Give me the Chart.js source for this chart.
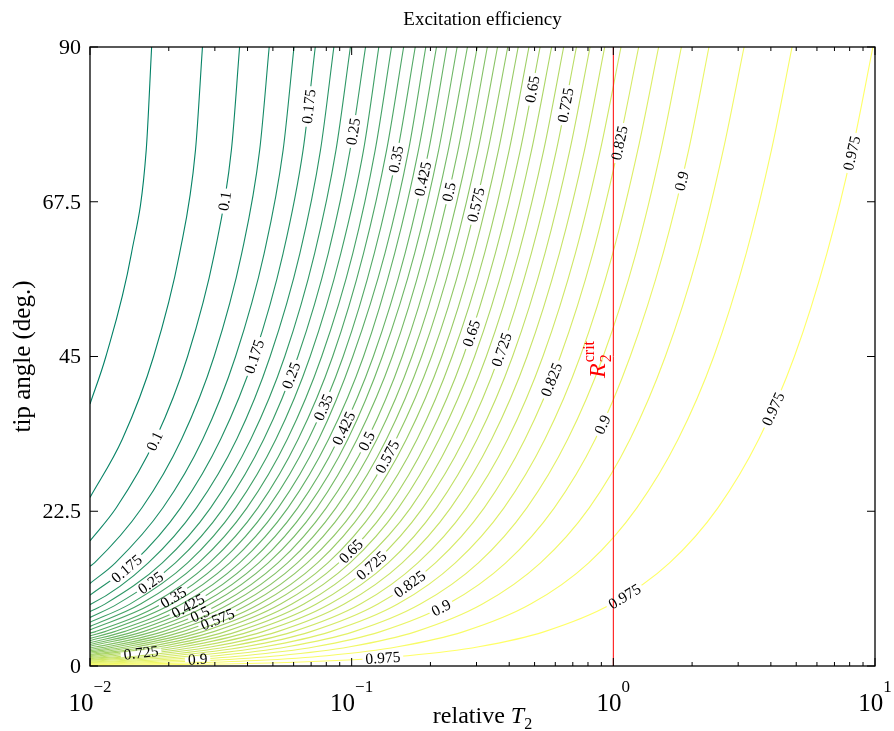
<!DOCTYPE html>
<html lang="en">
<head>
    <meta charset="UTF-8">
    <title>Excitation efficiency</title>
    <script src="https://cdn.jsdelivr.net/npm/chart.js"></script>
    <style>
        body { margin: 0; background: #fff; }
    </style>
</head>
<body>
<canvas id="contourChart" width="894" height="731"></canvas>
<script>
    // contour levels of the excitation efficiency
    const levels = [0.05, 0.075, 0.1, 0.125, 0.15, 0.175, 0.2, 0.225, 0.25, 0.275, 0.3, 0.325, 0.35, 0.375,
        0.4, 0.425, 0.45, 0.475, 0.5, 0.525, 0.55, 0.575, 0.6, 0.625, 0.65, 0.675, 0.7, 0.725, 0.75,
        0.775, 0.8, 0.825, 0.85, 0.875, 0.9, 0.925, 0.95, 0.975];
    // tip angles (deg.) at which each contour was read
    const tipAngles = [90, 75, 60, 45, 33, 23, 15, 9, 5, 2.8, 1.5, 0.8, 0.4];
    // tip angle where each contour meets the left edge (relative T2 = 0.01)
    const edgeAngle = [38.1, 24.5, 18.2, 14.5, 12.0, 10.3, 8.95, 7.91, 7.06, 6.36, 5.76, 5.24, 4.78, 4.38,
        4.02, 3.69, 3.39, 3.12, 2.87, 2.64, 2.42, 2.22, 2.03, 1.85, 1.68, 1.52, 1.37, 1.23, 1.09,
        0.960, 0.836, 0.716, 0.602, 0.492, 0.386, 0.284, 0.186, 0.0915];
    // relative T2 of each contour at tipAngles (only the part inside the plot)
    const relT2 = [
        [0.0172, 0.0164, 0.0144, 0.0115],
        [0.0269, 0.0253, 0.0220, 0.0175, 0.0133],
        [0.0373, 0.0347, 0.0299, 0.0236, 0.0178, 0.0126],
        [0.0484, 0.0445, 0.0380, 0.0298, 0.0224, 0.0158, 0.0104],
        [0.0602, 0.0547, 0.0463, 0.0360, 0.0270, 0.0190, 0.0125],
        [0.0726, 0.0652, 0.0547, 0.0424, 0.0316, 0.0222, 0.0146],
        [0.0855, 0.0760, 0.0634, 0.0488, 0.0364, 0.0255, 0.0167, 0.0101],
        [0.0989, 0.0871, 0.0722, 0.0555, 0.0412, 0.0289, 0.0189, 0.0114],
        [0.113, 0.0986, 0.0814, 0.0623, 0.0462, 0.0324, 0.0212, 0.0127],
        [0.127, 0.111, 0.0909, 0.0694, 0.0514, 0.0360, 0.0236, 0.0142],
        [0.142, 0.123, 0.101, 0.0768, 0.0568, 0.0398, 0.0260, 0.0156],
        [0.158, 0.136, 0.111, 0.0846, 0.0625, 0.0438, 0.0286, 0.0172],
        [0.175, 0.150, 0.122, 0.0928, 0.0685, 0.0479, 0.0313, 0.0188, 0.0105],
        [0.192, 0.165, 0.134, 0.101, 0.0749, 0.0524, 0.0342, 0.0205, 0.0114],
        [0.211, 0.180, 0.146, 0.111, 0.0817, 0.0571, 0.0373, 0.0224, 0.0124],
        [0.231, 0.197, 0.160, 0.121, 0.0890, 0.0622, 0.0406, 0.0244, 0.0135],
        [0.253, 0.215, 0.174, 0.131, 0.0968, 0.0676, 0.0442, 0.0265, 0.0147],
        [0.277, 0.234, 0.189, 0.143, 0.105, 0.0736, 0.0480, 0.0288, 0.0160],
        [0.302, 0.255, 0.206, 0.156, 0.115, 0.0800, 0.0523, 0.0314, 0.0174],
        [0.330, 0.279, 0.225, 0.170, 0.125, 0.0871, 0.0569, 0.0341, 0.0190, 0.0106],
        [0.361, 0.304, 0.245, 0.185, 0.136, 0.0949, 0.0620, 0.0372, 0.0207, 0.0116],
        [0.395, 0.332, 0.268, 0.202, 0.148, 0.104, 0.0676, 0.0406, 0.0226, 0.0126],
        [0.433, 0.364, 0.293, 0.221, 0.162, 0.113, 0.0740, 0.0444, 0.0247, 0.0138],
        [0.476, 0.400, 0.322, 0.242, 0.178, 0.124, 0.0811, 0.0487, 0.0270, 0.0151],
        [0.525, 0.441, 0.354, 0.267, 0.196, 0.137, 0.0892, 0.0535, 0.0297, 0.0167],
        [0.581, 0.487, 0.392, 0.295, 0.216, 0.151, 0.0986, 0.0591, 0.0329, 0.0184],
        [0.646, 0.542, 0.435, 0.327, 0.240, 0.168, 0.109, 0.0657, 0.0365, 0.0204, 0.0109],
        [0.723, 0.606, 0.486, 0.366, 0.269, 0.187, 0.122, 0.0733, 0.0407, 0.0228, 0.0122],
        [0.815, 0.682, 0.548, 0.412, 0.302, 0.211, 0.138, 0.0825, 0.0458, 0.0257, 0.0138],
        [0.927, 0.776, 0.622, 0.468, 0.343, 0.239, 0.156, 0.0937, 0.0521, 0.0292, 0.0156],
        [1.07, 0.892, 0.716, 0.538, 0.395, 0.275, 0.179, 0.108, 0.0598, 0.0335, 0.0180],
        [1.25, 1.04, 0.835, 0.627, 0.460, 0.321, 0.209, 0.126, 0.0698, 0.0391, 0.0209, 0.0112],
        [1.49, 1.24, 0.995, 0.747, 0.548, 0.382, 0.249, 0.150, 0.0831, 0.0465, 0.0249, 0.0133],
        [1.82, 1.52, 1.22, 0.914, 0.670, 0.467, 0.305, 0.183, 0.102, 0.0569, 0.0305, 0.0163],
        [2.32, 1.94, 1.55, 1.16, 0.854, 0.595, 0.388, 0.233, 0.129, 0.0725, 0.0388, 0.0207, 0.0104],
        [3.16, 2.63, 2.11, 1.58, 1.16, 0.809, 0.527, 0.316, 0.176, 0.0985, 0.0527, 0.0281, 0.0141],
        [4.82, 4.02, 3.22, 2.42, 1.77, 1.23, 0.805, 0.483, 0.268, 0.150, 0.0805, 0.0430, 0.0215],
        [9.82, 8.19, 6.55, 4.92, 3.60, 2.51, 1.64, 0.983, 0.546, 0.306, 0.164, 0.0874, 0.0437]
    ];

    // inline contour labels: level, and roughly where it sits (relative T2, tip angle)
    const labelLevel = [0.1, 0.175, 0.25, 0.35, 0.425, 0.5, 0.575, 0.65, 0.725, 0.825, 0.9, 0.975,
        0.1, 0.175, 0.25, 0.35, 0.425, 0.5, 0.575, 0.65, 0.725, 0.825, 0.9, 0.975,
        0.175, 0.25, 0.35, 0.425, 0.5, 0.575, 0.65, 0.725, 0.825, 0.9, 0.975, 0.725, 0.9, 0.975];
    const labelT2 = [0.0327, 0.0661, 0.100, 0.146, 0.194, 0.237, 0.295, 0.492, 0.700, 1.06, 1.84, 8.39,
        0.0177, 0.0363, 0.0579, 0.0788, 0.0983, 0.117, 0.142, 0.275, 0.378, 0.572, 0.928, 4.26,
        0.0136, 0.0172, 0.0209, 0.0240, 0.0262, 0.0307, 0.0957, 0.119, 0.166, 0.218, 1.11, 0.0157, 0.0256, 0.131];
    const labelTip = [67.7, 81.5, 77.9, 73.8, 70.6, 68.9, 67.0, 84.0, 81.5, 76.0, 70.6, 74.6,
        32.6, 45.9, 42.3, 37.5, 34.3, 32.6, 30.2, 48.4, 45.9, 41.9, 35.0, 37.2,
        14.4, 11.8, 9.74, 8.58, 7.7, 6.69, 17.3, 14.7, 11.8, 8.6, 9.9, 1.45, 1.02, 1.02];

    const critT2 = 1;              // R2 crit marker
    const critLabelAt = [0.865, 44.5];
    const xMin = 0.01, xMax = 10, yMin = 0, yMax = 90;
    const xDecades = [0.01, 0.1, 1, 10];
    const yTicks = [0, 22.5, 45, 67.5, 90];

    const SERIF = '"Liberation Serif", "DejaVu Serif", serif';
    const LABEL_FONT = '15.5px ' + SERIF;

    // matplotlib "summer" colour map
    function summer(v) {
        const t = (v - levels[0]) / (levels[levels.length - 1] - levels[0]);
        return 'rgb(' + Math.round(255 * t) + ',' + Math.round(255 * (0.5 + 0.5 * t)) + ',102)';
    }

    const datasets = [{
        data: [{x: critT2, y: yMin}, {x: critT2, y: yMax}],
        showLine: true, borderColor: '#ff0000', borderWidth: 1, pointRadius: 0, tension: 0
    }];
    levels.forEach(function (lv, i) {
        const pts = relT2[i].map(function (v, j) { return {x: v, y: tipAngles[j]}; });
        pts.push({x: xMin, y: edgeAngle[i]});
        pts.sort(function (a, b) { return a.x - b.x; });
        datasets.push({
            data: pts, showLine: true, borderColor: summer(lv), borderWidth: 1.1,
            pointRadius: 0, cubicInterpolationMode: 'monotone'
        });
    });

    // find the nearest spot on a drawn contour (follows the bezier the line uses)
    function nearestOnCurve(meta, tx, ty) {
        const p = meta.data;
        let best = null;
        for (let k = 0; k < p.length - 1; k++) {
            const a = p[k], b = p[k + 1];
            const x0 = a.x, y0 = a.y, x3 = b.x, y3 = b.y;
            const x1 = a.cp2x !== undefined ? a.cp2x : x0, y1 = a.cp2y !== undefined ? a.cp2y : y0;
            const x2 = b.cp1x !== undefined ? b.cp1x : x3, y2 = b.cp1y !== undefined ? b.cp1y : y3;
            for (let s = 0; s <= 40; s++) {
                const t = s / 40, u = 1 - t;
                const bx = u * u * u * x0 + 3 * u * u * t * x1 + 3 * u * t * t * x2 + t * t * t * x3;
                const by = u * u * u * y0 + 3 * u * u * t * y1 + 3 * u * t * t * y2 + t * t * t * y3;
                let dx = 3 * u * u * (x1 - x0) + 6 * u * t * (x2 - x1) + 3 * t * t * (x3 - x2);
                let dy = 3 * u * u * (y1 - y0) + 6 * u * t * (y2 - y1) + 3 * t * t * (y3 - y2);
                if (Math.abs(dx) + Math.abs(dy) < 1e-6) { dx = x3 - x0; dy = y3 - y0; }
                const d = (bx - tx) * (bx - tx) + (by - ty) * (by - ty);
                if (!best || d < best.d) best = {d: d, x: bx, y: by, dx: dx, dy: dy};
            }
        }
        return best;
    }

    function placeLabels(chart) {
        const xs = chart.scales.x, ys = chart.scales.y, ctx = chart.ctx;
        ctx.font = LABEL_FONT;
        return labelLevel.map(function (lv, i) {
            const meta = chart.getDatasetMeta(levels.indexOf(lv) + 1);
            const hit = nearestOnCurve(meta, xs.getPixelForValue(labelT2[i]), ys.getPixelForValue(labelTip[i]));
            let ang = Math.atan2(hit.dy, hit.dx);
            if (ang > Math.PI / 2) ang -= Math.PI;
            if (ang < -Math.PI / 2) ang += Math.PI;
            const text = String(lv);
            return {x: hit.x, y: hit.y, ang: ang, text: text, w: ctx.measureText(text).width};
        });
    }

    const overlay = {
        id: 'overlay',
        beforeDatasetDraw(chart, args) {
            if (args.index !== 0) return;
            // cut the contour under each label, before the red marker goes on top
            const ctx = chart.ctx;
            chart.$labels = placeLabels(chart);
            ctx.save();
            ctx.fillStyle = '#fff';
            chart.$labels.forEach(function (l) {
                ctx.save();
                ctx.translate(l.x, l.y);
                ctx.rotate(l.ang);
                ctx.fillRect(-l.w / 2 - 3, -2.3, l.w + 6, 4.6);
                ctx.restore();
            });
            ctx.restore();
        },
        afterDatasetsDraw(chart) {
            const ctx = chart.ctx;
            ctx.save();
            ctx.fillStyle = '#000';
            ctx.font = LABEL_FONT;
            ctx.textAlign = 'center';
            ctx.textBaseline = 'middle';
            (chart.$labels || []).forEach(function (l) {
                ctx.save();
                ctx.translate(l.x, l.y);
                ctx.rotate(l.ang);
                ctx.fillText(l.text, 0, 1);
                ctx.restore();
            });
            // R2 crit label
            const cx = chart.scales.x.getPixelForValue(critLabelAt[0]);
            const cy = chart.scales.y.getPixelForValue(critLabelAt[1]);
            ctx.translate(cx, cy);
            ctx.rotate(-Math.PI / 2);
            ctx.fillStyle = '#ff0000';
            ctx.textAlign = 'left';
            ctx.textBaseline = 'alphabetic';
            ctx.font = 'italic 24px ' + SERIF;
            const wR = ctx.measureText('R').width;
            ctx.font = '16px ' + SERIF;
            const wC = ctx.measureText('crit').width;
            const x0 = -(wR + wC) / 2;
            ctx.font = 'italic 24px ' + SERIF;
            ctx.fillText('R', x0, 8);
            ctx.font = '16px ' + SERIF;
            ctx.fillText('crit', x0 + wR + 1, -3);
            ctx.fillText('2', x0 + wR + 1, 14);
            ctx.restore();
        },
        afterDraw(chart) {
            const ctx = chart.ctx, a = chart.chartArea;
            const xs = chart.scales.x, ys = chart.scales.y;
            ctx.save();
            ctx.strokeStyle = '#000';
            ctx.lineWidth = 1.3;
            ctx.strokeRect(a.left, a.top, a.right - a.left, a.bottom - a.top);
            ctx.lineWidth = 1;
            ctx.beginPath();
            // log ticks, pointing inward on top and bottom
            xDecades.forEach(function (d, k) {
                const px = xs.getPixelForValue(d);
                ctx.moveTo(px, a.bottom); ctx.lineTo(px, a.bottom - 8);
                ctx.moveTo(px, a.top); ctx.lineTo(px, a.top + 8);
                if (k === xDecades.length - 1) return;
                for (let m = 2; m <= 9; m++) {
                    const pm = xs.getPixelForValue(m * d);
                    ctx.moveTo(pm, a.bottom); ctx.lineTo(pm, a.bottom - 4);
                    ctx.moveTo(pm, a.top); ctx.lineTo(pm, a.top + 4);
                }
            });
            yTicks.forEach(function (v) {
                const py = ys.getPixelForValue(v);
                ctx.moveTo(a.left, py); ctx.lineTo(a.left + 8, py);
                ctx.moveTo(a.right, py); ctx.lineTo(a.right - 8, py);
            });
            ctx.stroke();

            ctx.fillStyle = '#000';
            // y tick labels
            ctx.font = '22px ' + SERIF;
            ctx.textAlign = 'right';
            ctx.textBaseline = 'middle';
            yTicks.forEach(function (v) {
                ctx.fillText(String(v), a.left - 9, ys.getPixelForValue(v) + 1);
            });
            // x tick labels 10^n
            ctx.textAlign = 'left';
            ctx.textBaseline = 'alphabetic';
            xDecades.forEach(function (d) {
                const exp = String(Math.round(Math.log10(d))).replace('-', '\u2212');
                ctx.font = '25px ' + SERIF;
                const wb = ctx.measureText('10').width;
                ctx.font = '17px ' + SERIF;
                const we = ctx.measureText(exp).width;
                const x0 = xs.getPixelForValue(d) - (wb + we) / 2;
                ctx.font = '25px ' + SERIF;
                ctx.fillText('10', x0, 711);
                ctx.font = '17px ' + SERIF;
                ctx.fillText(exp, x0 + wb, 692);
            });
            // title
            const cx = (a.left + a.right) / 2;
            ctx.textAlign = 'center';
            ctx.font = '19px ' + SERIF;
            ctx.fillText('Excitation efficiency', cx, 25);
            // x title: relative T_2
            ctx.textAlign = 'left';
            ctx.font = '24px ' + SERIF;
            const w1 = ctx.measureText('relative ').width;
            ctx.font = 'italic 24px ' + SERIF;
            const w2 = ctx.measureText('T').width;
            ctx.font = '16px ' + SERIF;
            const w3 = ctx.measureText('2').width;
            const tx = cx - (w1 + w2 + w3) / 2;
            ctx.font = '24px ' + SERIF;
            ctx.fillText('relative ', tx, 723);
            ctx.font = 'italic 24px ' + SERIF;
            ctx.fillText('T', tx + w1, 723);
            ctx.font = '16px ' + SERIF;
            ctx.fillText('2', tx + w1 + w2, 729);
            // y title
            ctx.translate(23, (a.top + a.bottom) / 2);
            ctx.rotate(-Math.PI / 2);
            ctx.textAlign = 'center';
            ctx.textBaseline = 'middle';
            ctx.font = '25px ' + SERIF;
            ctx.fillText('tip angle (deg.)', 0, 0);
            ctx.restore();
        }
    };

    const chart = new Chart(document.getElementById('contourChart').getContext('2d'), {
        type: 'scatter',
        data: {datasets: datasets},
        options: {
            responsive: false,
            animation: false,
            layout: {padding: {left: 90, right: 19, top: 47, bottom: 65}},
            scales: {
                x: {type: 'logarithmic', min: xMin, max: xMax, display: false},
                y: {type: 'linear', min: yMin, max: yMax, display: false}
            },
            plugins: {legend: {display: false}, tooltip: {enabled: false}}
        },
        plugins: [overlay]
    });
</script>
</body>
</html>
